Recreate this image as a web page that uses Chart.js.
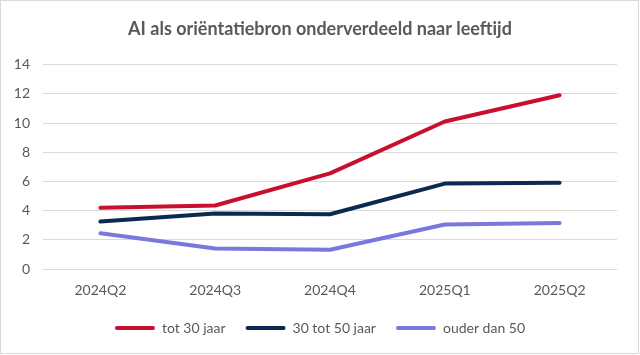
<!DOCTYPE html>
<html>
<head>
<meta charset="utf-8">
<script src="https://cdn.jsdelivr.net/npm/chart.js@4"></script>
<style>
html,body{margin:0;padding:0;background:#fff;}
#wrap{width:640px;height:355px;position:relative;}
</style>
</head>
<body>
<div id="wrap"><canvas id="c" width="640" height="355"></canvas></div>
<script>
const categories = ['2024Q2','2024Q3','2024Q4','2025Q1','2025Q2'];
const seriesNames = ['tot 30 jaar','30 tot 50 jaar','ouder dan 50'];
const tot30 = [4.2, 4.35, 6.55, 10.1, 11.9];
const tot50 = [3.25, 3.8, 3.75, 5.85, 5.9];
const ouder50 = [2.45, 1.4, 1.32, 3.05, 3.15];
const yTicks = [0,2,4,6,8,10,12,14];
const colors = ['#C8102E','#0B2A4F','#7B78DD'];
const titleText = 'AI als oriëntatiebron onderverdeeld naar leeftijd';
const FONT = 'Lato, "Open Sans", sans-serif';
const TXT = '#595959';

const borderPlugin = {
  id:'frame',
  afterDraw(chart){
    const ctx = chart.ctx;
    ctx.save();
    ctx.strokeStyle = '#d9d9d9';
    ctx.lineWidth = 1;
    ctx.strokeRect(0.5,0.5,chart.width-2,chart.height-2);
    ctx.restore();
  }
};

new Chart(document.getElementById('c'), {
  type:'line',
  data:{
    labels: categories,
    datasets: [tot30, tot50, ouder50].map((d,i)=>({
      label: seriesNames[i],
      data: d,
      borderColor: colors[i],
      backgroundColor: colors[i],
      borderWidth: 4,
      borderCapStyle: 'round',
      borderJoinStyle: 'round',
      pointRadius: 0,
      pointHoverRadius: 0,
      tension: 0
    }))
  },
  options:{
    responsive:false,
    animation:false,
    devicePixelRatio:1,
    layout:{padding:{left:0,right:0,top:0,bottom:10}},
    plugins:{
      title:{
        display:true,
        text:titleText,
        color:TXT,
        font:{family:FONT,size:18,weight:'bold'},
        padding:{top:18,bottom:25}
      },
      legend:{
        display:true,
        position:'bottom',
        labels:{
          color:TXT,
          font:{family:FONT,size:14},
          boxWidth:40,
          boxHeight:4,
          padding:20,
          useBorderRadius:true,
          borderRadius:2,
          generateLabels(chart){
            return chart.data.datasets.map((ds,i)=>({
              text: ds.label,
              fillStyle: ds.borderColor,
              strokeStyle: ds.borderColor,
              lineWidth: 0,
              borderRadius: 2,
              fontColor: TXT,
              datasetIndex: i,
              hidden: false
            }));
          }
        }
      },
      tooltip:{enabled:false}
    },
    scales:{
      x:{
        offset:true,
        grid:{display:false,drawTicks:false},
        border:{display:false},
        afterFit(scale){ scale.height = 32; },
        ticks:{color:TXT,font:{family:FONT,size:14},padding:13,maxRotation:0,autoSkip:false}
      },
      y:{
        min:0,max:14,
        afterBuildTicks(scale){ scale.ticks = yTicks.map(v=>({value:v})); },
        afterFit(scale){ scale.width = 43; },
        grid:{color:'#d9d9d9',lineWidth:1,drawTicks:false},
        border:{display:false},
        ticks:{color:TXT,font:{family:FONT,size:14},padding:13}
      },
      yRight:{
        position:'right',
        min:0,max:14,
        grid:{display:false,drawTicks:false},
        border:{display:false},
        ticks:{display:false},
        afterFit(scale){ scale.width = 23; }
      }
    }
  },
  plugins:[borderPlugin]
});
</script>
</body>
</html>
